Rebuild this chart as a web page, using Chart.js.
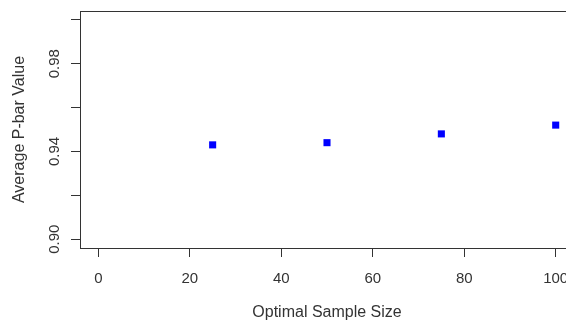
<!DOCTYPE html>
<html>
<head>
<meta charset="utf-8">
<script src="https://cdn.jsdelivr.net/npm/chart.js@4"></script>
<style>
  html, body { margin: 0; padding: 0; background: #fff; overflow: hidden; }
  #plot { display: block; }
</style>
</head>
<body>
<canvas id="plot" width="574" height="322"></canvas>
<script>
// values
const sampleSizes = [25, 50, 75, 100];
const avgPbar = [0.943, 0.944, 0.948, 0.952];

const xTicks = [0, 20, 40, 60, 80, 100];
const yTicks = [0.90, 0.92, 0.94, 0.96, 0.98, 1.00];
const yTickLabels = ['0.90', '', '0.94', '', '0.98', ''];

const ink = '#333';
const tickFont = { family: 'Liberation Sans, Arial, sans-serif', size: 15 };
const titleFont = { family: 'Liberation Sans, Arial, sans-serif', size: 16 };

// R style box round the plot area
const boxPlugin = {
  id: 'box',
  afterDraw(chart) {
    const a = chart.chartArea;
    const ctx = chart.ctx;
    ctx.save();
    ctx.strokeStyle = ink;
    ctx.lineWidth = 1;
    ctx.strokeRect(Math.round(a.left) + 0.5, Math.round(a.top) + 0.5,
      Math.round(a.right - a.left), Math.round(a.bottom - a.top));
    ctx.restore();
  }
};

const scatterConfig = {
  type: 'scatter',
  data: {
    datasets: [{
      data: sampleSizes.map((x, i) => ({ x: x, y: avgPbar[i] })),
      pointStyle: 'rect',
      pointRadius: 5,
      pointBorderWidth: 0,
      backgroundColor: '#0000ff',
      borderColor: '#0000ff'
    }]
  },
  options: {
    responsive: false,
    animation: false,
    layout: { padding: { top: 11, left: 0, right: 0, bottom: 0 }, autoPadding: false },
    plugins: {
      legend: { display: false },
      tooltip: { enabled: false }
    },
    scales: {
      x: {
        type: 'linear',
        min: -4,
        max: 104,
        afterBuildTicks: s => { s.ticks = xTicks.map(v => ({ value: v })); },
        afterFit: s => { s.height = 74; s.paddingLeft = 0; s.paddingRight = 0; },
        grid: { drawOnChartArea: false, drawTicks: true, tickLength: 9, color: ink },
        border: { display: false },
        ticks: { color: ink, font: tickFont, padding: 13, maxRotation: 0, autoSkip: false },
        title: { display: true, text: 'Optimal Sample Size', color: ink, font: titleFont, padding: { top: 0, bottom: 0 } }
      },
      y: {
        type: 'linear',
        min: 0.896,
        max: 1.004,
        afterBuildTicks: s => { s.ticks = yTicks.map(v => ({ value: v })); },
        afterFit: s => { s.width = 80; s.paddingTop = 0; s.paddingBottom = 0; },
        grid: { drawOnChartArea: false, drawTicks: true, tickLength: 9, color: ink },
        border: { display: false },
        ticks: {
          color: ink, font: tickFont, padding: 2, minRotation: 90, maxRotation: 90,
          crossAlign: 'center', autoSkip: false,
          callback: (v, i) => yTickLabels[i]
        },
        title: { display: true, text: 'Average P-bar Value', color: ink, font: titleFont, padding: { top: 10, bottom: 0 } }
      }
    }
  },
  plugins: [boxPlugin]
};

const myScatter = new Chart(document.getElementById('plot'), scatterConfig);
</script>
</body>
</html>
